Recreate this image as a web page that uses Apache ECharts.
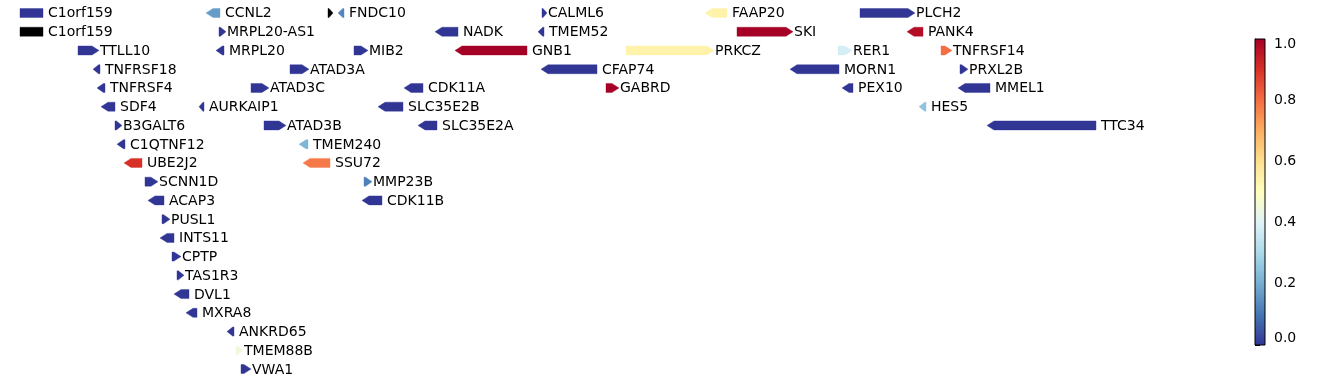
<!DOCTYPE html>
<html>
<head>
<meta charset="utf-8">
<script src="https://cdn.jsdelivr.net/npm/echarts@6/dist/echarts.min.js"></script>
<style>
html,body{margin:0;padding:0;background:#fff;}
#chart{width:1338px;height:383px;}
</style>
</head>
<body>
<div id="chart"></div>
<script>
// Gene annotations (positions in kb, row = track index, strand: 1 fwd, -1 rev, 0 none)
const geneNames = ["C1orf159","CCNL2","","FNDC10","CALML6","FAAP20","PLCH2",
  "C1orf159","MRPL20-AS1","NADK","TMEM52","SKI","PANK4",
  "TTLL10","MRPL20","MIB2","GNB1","PRKCZ","RER1","TNFRSF14",
  "TNFRSF18","ATAD3A","CFAP74","MORN1","PRXL2B",
  "TNFRSF4","ATAD3C","CDK11A","GABRD","PEX10","MMEL1",
  "SDF4","AURKAIP1","SLC35E2B","HES5",
  "B3GALT6","ATAD3B","SLC35E2A","TTC34",
  "C1QTNF12","TMEM240",
  "UBE2J2","SSU72",
  "SCNN1D","MMP23B",
  "ACAP3","CDK11B",
  "PUSL1","INTS11","CPTP","TAS1R3","DVL1","MXRA8","ANKRD65","TMEM88B","VWA1"];
const geneStart = [1030,1309,1492,1507,1813,2057.5,2290,
  1030,1328.5,1652.5,1807,2105.5,2360.5,
  1117,1324,1531,1682.5,1939,2257,2411.5,
  1139.5,1435,1811.5,2185,2440,
  1145.5,1376.5,1606,1909,2263,2437,
  1151.5,1298.5,1567,2378.5,
  1172.5,1396,1627,2480.5,
  1175.5,1448.5,
  1186,1454.5,
  1217.5,1546,
  1222,1543,
  1243,1240,1258,1265.5,1261,1279,1340.5,1354,1361.5];
const geneEnd = [1064.5,1330,1499.5,1516,1820.5,2090.5,2372.5,
  1064.5,1339,1687,1816,2189.5,2384.5,
  1148.5,1336,1552,1790.5,2071,2278,2428,
  1150,1463.5,1895.5,2258.5,2452,
  1157.5,1403.5,1634.5,1928.5,2279.5,2485,
  1172.5,1306,1604.5,2389,
  1183,1429,1655.5,2644,
  1187.5,1462,
  1213,1495,
  1237,1558,
  1246,1573,
  1255,1261,1271.5,1276,1283.5,1295.5,1351,1364.5,1376.5];
const geneStrand = [0,-1,1,-1,1,-1,1,
  0,1,-1,-1,1,-1,
  1,-1,1,-1,1,1,1,
  -1,1,-1,-1,1,
  -1,1,-1,1,-1,-1,
  -1,-1,-1,-1,
  1,1,-1,-1,
  -1,-1,
  -1,-1,
  1,1,
  -1,-1,
  1,-1,1,1,-1,-1,-1,1,1];
const geneRow = [0,0,0,0,0,0,0,
  1,1,1,1,1,1,
  2,2,2,2,2,2,2,
  3,3,3,3,3,
  4,4,4,4,4,4,
  5,5,5,5,
  6,6,6,6,
  7,7,
  8,8,
  9,9,
  10,10,
  11,12,13,14,15,16,17,18,19];
// score shown by colour (null = no score, drawn black)
const geneScore = [0,0.17,null,0.13,0,0.54,0,
  null,0,0,0,1.0,0.97,
  0,0,0,1.0,0.54,0.38,0.8,
  0,0,0,0,0,
  0,0,0,1.0,0,0,
  0,0,0,0.25,
  0,0,0,0,
  0,0.22,
  0.9,0.78,
  0,0.12,
  0,0,
  0,0,0,0,0,0,0,0.45,0];
const colorbarTicks = [0,0.2,0.4,0.6,0.8,1.0];

const cmap = ['#313695','#4575b4','#74add1','#abd9e9','#e0f3f8','#ffffbf','#fee090','#fdae61','#f46d43','#d73027','#a50026'];
function hex2rgb(h){return [parseInt(h.substr(1,2),16),parseInt(h.substr(3,2),16),parseInt(h.substr(5,2),16)];}
function colorOf(v){
  if (v === null || v === undefined) return '#000000';
  v = Math.max(0, Math.min(1, v));
  const p = v * (cmap.length - 1);
  const i = Math.min(Math.floor(p), cmap.length - 2);
  const t = p - i;
  const a = hex2rgb(cmap[i]), b = hex2rgb(cmap[i+1]);
  const c = a.map((x,k)=>Math.round(x + (b[k]-x)*t));
  return 'rgb(' + c.join(',') + ')';
}

const geneData = geneNames.map((n,i)=>[geneStart[i], geneEnd[i], geneRow[i], geneStrand[i], i]);

const FONT = '14px "DejaVu Sans", sans-serif';

function renderGene(params, api){
  const i = api.value(4);
  const s = api.coord([api.value(0), api.value(2)]);
  const e = api.coord([api.value(1), api.value(2)]);
  const x0 = s[0], x1 = e[0], y = s[1];
  const h = 4.5;
  const len = x1 - x0;
  const head = Math.min(7, len * 0.8);
  const strand = api.value(3);
  let pts;
  if (strand > 0) {
    pts = [[x0,y-h],[x1-head,y-h],[x1,y],[x1-head,y+h],[x0,y+h]];
  } else if (strand < 0) {
    pts = [[x1,y-h],[x0+head,y-h],[x0,y],[x0+head,y+h],[x1,y+h]];
  } else {
    pts = [[x0,y-h],[x1,y-h],[x1,y+h],[x0,y+h]];
  }
  const col = colorOf(geneScore[i]);
  const children = [{
    type: 'polygon',
    shape: {points: pts},
    style: {fill: col, stroke: col, lineWidth: 0.4}
  }];
  if (geneNames[i]) {
    children.push({
      type: 'text',
      style: {
        text: geneNames[i],
        x: x1 + (strand > 0 ? 1 : 5),
        y: y + 0.8,
        fill: '#000',
        font: FONT,
        align: 'left',
        verticalAlign: 'middle'
      }
    });
  }
  return {type: 'group', children: children};
}

function renderBar(params, api){
  const a = api.coord([0, 0]);
  const b = api.coord([1, 1]);
  const stops = cmap.map((c,k)=>({offset: 1 - k/(cmap.length-1), color: c})).reverse();
  return {
    type: 'rect',
    shape: {x: a[0], y: b[1], width: b[0]-a[0], height: a[1]-b[1]},
    style: {
      fill: new echarts.graphic.LinearGradient(0,0,0,1, stops),
      stroke: '#000', lineWidth: 1
    }
  };
}

const chart = echarts.init(document.getElementById('chart'), null, {renderer: 'canvas'});
chart.setOption({
  animation: false,
  backgroundColor: '#fff',
  grid: [
    {left: 0, width: 1338, top: 3.63, height: 374.8},
    {left: 1255, width: 10, top: 39, height: 306}
  ],
  xAxis: [
    {gridIndex: 0, type: 'value', min: 1000, max: 3007, show: false},
    {gridIndex: 1, type: 'value', min: 0, max: 1, show: false}
  ],
  yAxis: [
    {gridIndex: 0, type: 'value', min: -0.5, max: 19.5, inverse: true, show: false},
    {gridIndex: 1, type: 'value', min: 0, max: 1, interval: 0.2, position: 'right',
     axisLine: {show: true, lineStyle: {color: '#000', width: 1}},
     axisTick: {show: true, length: 5, inside: false, lineStyle: {color: '#000'}},
     splitLine: {show: false},
     axisLabel: {show: true, margin: 9, color: '#000', fontSize: 14, fontFamily: 'DejaVu Sans',
       formatter: function(v){
         if (!colorbarTicks.some(t=>Math.abs(t-v)<1e-9)) return '';
         const s = v.toFixed(1);
         if (Math.abs(v-1) < 1e-9) return '{mx|' + s + '}';
         if (Math.abs(v) < 1e-9) return '{mn|' + s + '}';
         return s;
       },
       rich: {
         mx: {fontSize: 14, fontFamily: 'DejaVu Sans', color: '#000', padding: [10,0,0,0]},
         mn: {fontSize: 14, fontFamily: 'DejaVu Sans', color: '#000', padding: [0,0,14,0]}
       }}}
  ],
  series: [
    {type: 'custom', xAxisIndex: 0, yAxisIndex: 0, clip: false, renderItem: renderGene, data: geneData, silent: true},
    {type: 'custom', xAxisIndex: 1, yAxisIndex: 1, clip: false, renderItem: renderBar, data: [[0,0]], silent: true, z: 1}
  ]
});
</script>
</body>
</html>
